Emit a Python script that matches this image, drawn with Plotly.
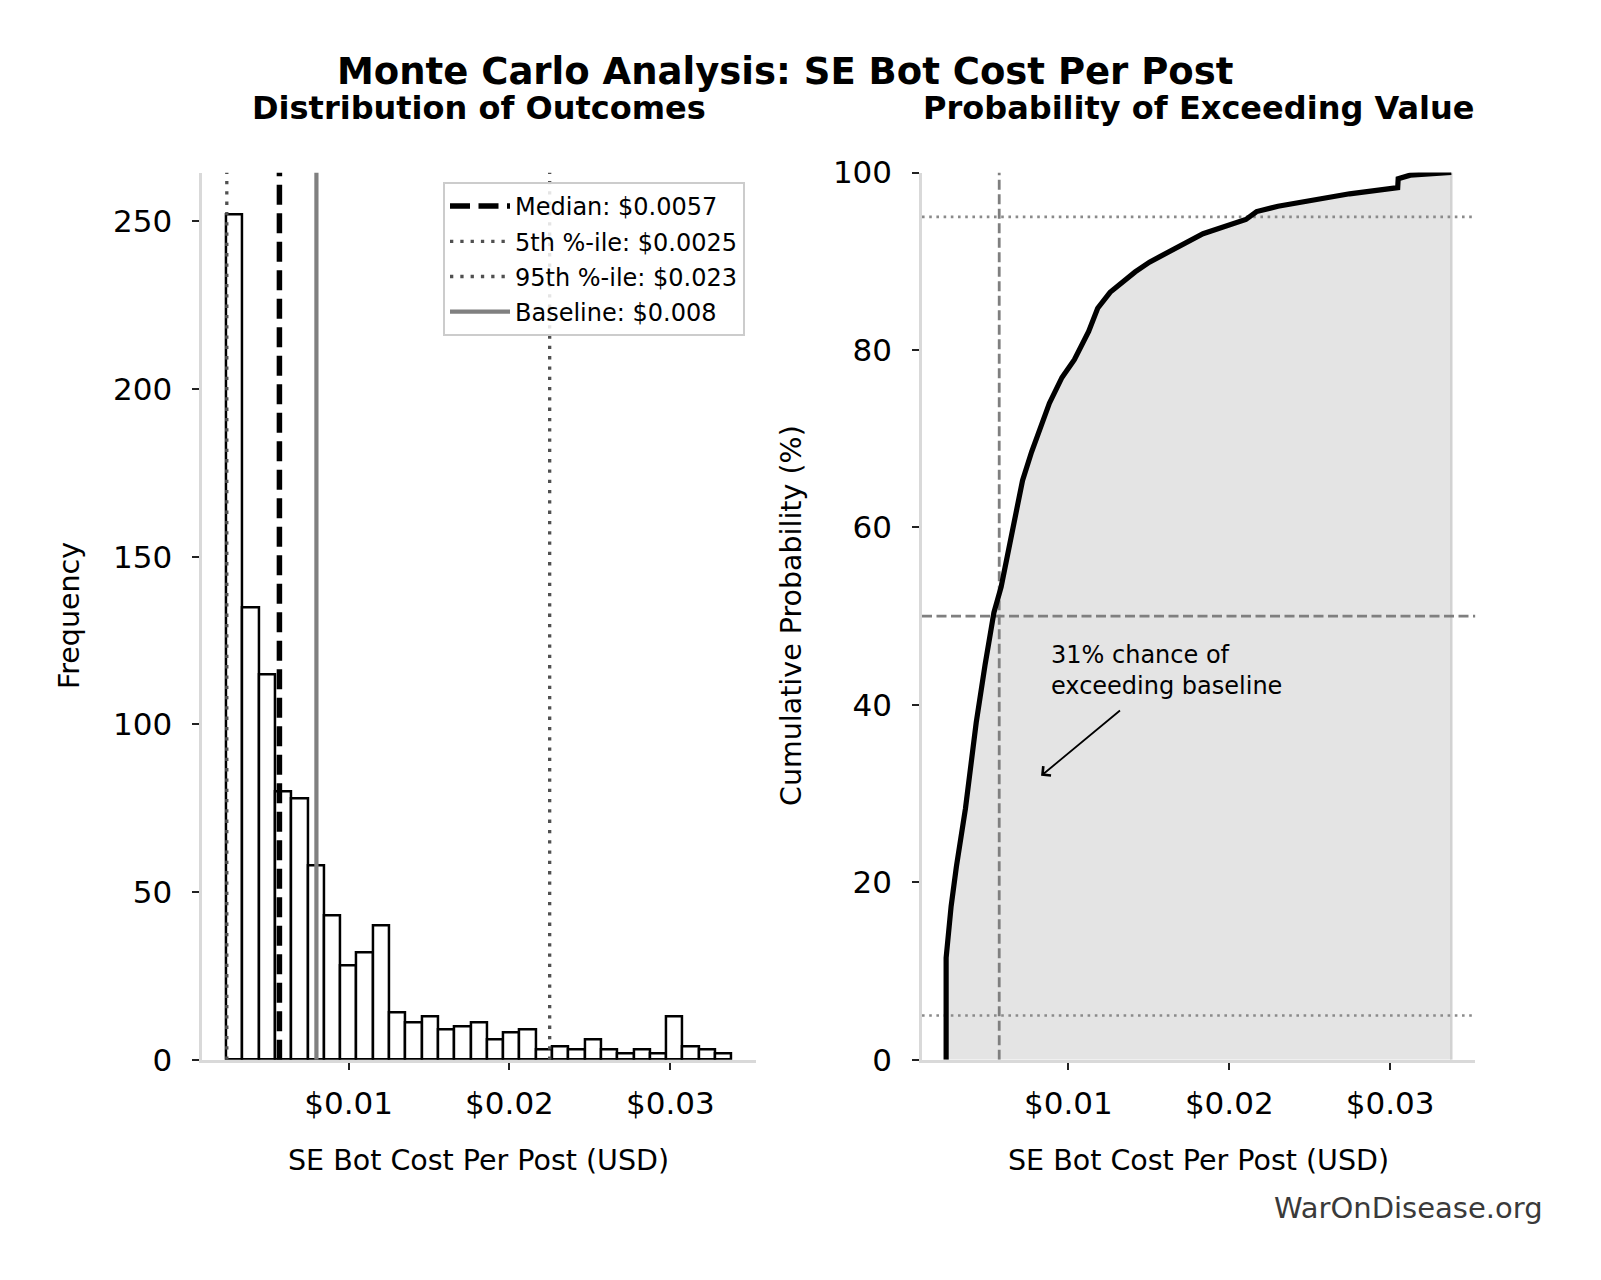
import plotly.graph_objects as go

# ---------------- data ----------------
hist_counts = [252, 135, 115, 80, 78, 58, 43, 28, 32, 40, 14, 11, 13, 9, 10, 11,
               6, 8, 9, 3, 4, 3, 6, 3, 2, 3, 2, 13, 4, 3, 2]
data_min = 0.0024
data_max = 0.0338

cdf_x = [0.0024, 0.0024, 0.00271, 0.00304, 0.0036, 0.00393, 0.00427, 0.00482,
         0.00537, 0.00582, 0.00615, 0.0066, 0.00715, 0.00771, 0.00827, 0.00882,
         0.0096, 0.01037, 0.01126, 0.01182, 0.01259, 0.01415, 0.01504, 0.01637,
         0.01837, 0.02103, 0.0217, 0.02303, 0.02526, 0.02748, 0.03047, 0.0305,
         0.03125, 0.0338]
cdf_y = [0, 11.5, 17.3, 21.8, 28.3, 33.5, 38.0, 44.5, 50.4, 53.3, 56.2, 60.7,
         65.3, 68.5, 71.4, 74.0, 76.9, 78.9, 82.1, 84.7, 86.5, 88.8, 89.9, 91.2,
         93.1, 94.7, 95.6, 96.2, 96.9, 97.6, 98.3, 99.3, 99.7, 100]

median_val = 0.0057
p5_val = 0.00243
p95_val = 0.0225
baseline_val = 0.008
ref_pcts = [5, 50, 95]

legend_labels = ["Median: $0.0057", "5th %-ile: $0.0025",
                 "95th %-ile: $0.023", "Baseline: $0.008"]
x_tick_vals = [0.01, 0.02, 0.03]
x_tick_text = ["$0.01", "$0.02", "$0.03"]
left_y_ticks = [0, 50, 100, 150, 200, 250]
right_y_ticks = [0, 20, 40, 60, 80, 100]

main_title = "Monte Carlo Analysis: SE Bot Cost Per Post"
sub_left = "Distribution of Outcomes"
sub_right = "Probability of Exceeding Value"
x_label = "SE Bot Cost Per Post (USD)"
y_label_left = "Frequency"
y_label_right = "Cumulative Probability (%)"
annot_text = "31% chance of<br>exceeding baseline"
watermark = "WarOnDisease.org"

# ---------------- layout constants ----------------
W, H = 1601, 1280
X_RANGE = [0.0009, 0.0353]
Y_LEFT_TOP = 264.6
FONT = "DejaVu Sans"

n_bins = len(hist_counts)
bw = (data_max - data_min) / n_bins
centers = [data_min + bw * (i + 0.5) for i in range(n_bins)]

fig = go.Figure()

# histogram bars
fig.add_trace(go.Bar(x=centers, y=hist_counts, width=[bw] * n_bins,
                     marker=dict(color="white", line=dict(color="black", width=2.5)),
                     showlegend=False, xaxis="x", yaxis="y", hoverinfo="skip"))

# reference vertical lines (left panel) - also legend entries
vlines = [
    (median_val, legend_labels[0], dict(color="black", width=5.5, dash="20px,8.5px")),
    (p5_val, legend_labels[1], dict(color="#505050", width=3.3, dash="3.3px,7px")),
    (p95_val, legend_labels[2], dict(color="#505050", width=3.3, dash="3.3px,7px")),
    (baseline_val, legend_labels[3], dict(color="#808080", width=4.2)),
]
for i, (xv, name, ln) in enumerate(vlines):
    fig.add_trace(go.Scatter(x=[xv, xv], y=[0, Y_LEFT_TOP], mode="lines", line=ln,
                             name=name, legendgroup="g%d" % i,
                             xaxis="x", yaxis="y", hoverinfo="skip"))

# right panel: fill under cumulative curve
fig.add_trace(go.Scatter(x=cdf_x, y=cdf_y, mode="lines", fill="tozeroy",
                         fillcolor="#e4e4e4", line=dict(width=0),
                         showlegend=False, xaxis="x2", yaxis="y2", hoverinfo="skip"))
fig.add_trace(go.Scatter(x=[cdf_x[-1], cdf_x[-1]], y=[0, cdf_y[-1]], mode="lines",
                         line=dict(color="#d2d2d2", width=2.5),
                         showlegend=False, xaxis="x2", yaxis="y2", hoverinfo="skip"))

# reference lines right panel
for p in ref_pcts:
    if p == 50:
        ln = dict(color="#7f7f7f", width=2.8, dash="10px,4.5px")
    else:
        ln = dict(color="#8a8a8a", width=2.6, dash="2.6px,4.6px")
    fig.add_trace(go.Scatter(x=X_RANGE, y=[p, p], mode="lines", line=ln,
                             showlegend=False, xaxis="x2", yaxis="y2", hoverinfo="skip"))
fig.add_trace(go.Scatter(x=[median_val, median_val], y=[0, 100], mode="lines",
                         line=dict(color="#7f7f7f", width=2.8, dash="10px,4.5px"),
                         showlegend=False, xaxis="x2", yaxis="y2", hoverinfo="skip"))

# cumulative curve
fig.add_trace(go.Scatter(x=cdf_x, y=cdf_y, mode="lines",
                         line=dict(color="black", width=5.2),
                         showlegend=False, xaxis="x2", yaxis="y2", hoverinfo="skip"))

axis_common = dict(
    showgrid=False, zeroline=False, showline=True, linecolor="#d9d9d9", linewidth=2.5,
    ticks="outside", ticklen=7, tickwidth=2, tickcolor="#222222", automargin=False,
    tickfont=dict(family=FONT, size=31, color="black"),
)

y_dom = [(H - 1059.8) / H, (H - 172.5) / H]
fig.update_layout(
    width=W, height=H,
    margin=dict(l=0, r=0, t=0, b=0, pad=0, autoexpand=False),
    paper_bgcolor="white", plot_bgcolor="white",
    font=dict(family=FONT, color="black"),
    xaxis=dict(domain=[202.2 / W, 755.6 / W], range=X_RANGE, tickvals=x_tick_vals,
               ticktext=x_tick_text, anchor="y", ticklabelstandoff=7, **axis_common),
    yaxis=dict(domain=y_dom, range=[0, Y_LEFT_TOP], tickvals=left_y_ticks,
               anchor="x", ticklabelstandoff=14, **axis_common),
    xaxis2=dict(domain=[922 / W, 1475.4 / W], range=X_RANGE, tickvals=x_tick_vals,
                ticktext=x_tick_text, anchor="y2", ticklabelstandoff=7, **axis_common),
    yaxis2=dict(domain=y_dom, range=[0, 100], tickvals=right_y_ticks,
                anchor="x2", ticklabelstandoff=14, **axis_common),
    legend=dict(x=745 / W, xanchor="right", y=1 - 182 / H, yanchor="top",
                bgcolor="rgba(255,255,255,0.85)", bordercolor="#cccccc", borderwidth=2,
                font=dict(family=FONT, size=24, color="black"), tracegroupgap=1,
                itemwidth=60),
    bargap=0,
    showlegend=True,
)

ann = []
ann.append(dict(text="<b>" + main_title + "</b>", x=785 / W, y=1 - 71.5 / H,
                xref="paper", yref="paper", showarrow=False,
                font=dict(family=FONT, size=37, color="black"),
                xanchor="center", yanchor="middle"))
ann.append(dict(text="<b>" + sub_left + "</b>", x=478.9 / W, y=1 - 107.7 / H,
                xref="paper", yref="paper", showarrow=False,
                font=dict(family=FONT, size=32, color="black"),
                xanchor="center", yanchor="middle"))
ann.append(dict(text="<b>" + sub_right + "</b>", x=1198.7 / W, y=1 - 107.7 / H,
                xref="paper", yref="paper", showarrow=False,
                font=dict(family=FONT, size=32, color="black"),
                xanchor="center", yanchor="middle"))
for xc in (478.9, 1198.7):
    ann.append(dict(text=x_label, x=xc / W, y=1 - 1160 / H, xref="paper", yref="paper",
                    showarrow=False, font=dict(family=FONT, size=28.5, color="black"),
                    xanchor="center", yanchor="middle"))
ann.append(dict(text=y_label_left, x=69.4 / W, y=1 - 615.7 / H, xref="paper",
                yref="paper", showarrow=False, textangle=-90,
                font=dict(family=FONT, size=28.5, color="black"),
                xanchor="center", yanchor="middle"))
ann.append(dict(text=y_label_right, x=791.3 / W, y=1 - 615.7 / H, xref="paper",
                yref="paper", showarrow=False, textangle=-90,
                font=dict(family=FONT, size=28.5, color="black"),
                xanchor="center", yanchor="middle"))
ann.append(dict(text=annot_text, x=0.0088, y=47.4, xref="x2", yref="y2",
                showarrow=False, align="left", xanchor="left", yanchor="top",
                font=dict(family=FONT, size=24, color="black")))
ann.append(dict(text="", x=0.0083, y=32, ax=0.0133, ay=39.5, xref="x2", yref="y2",
                axref="x2", ayref="y2", showarrow=True, arrowhead=4, arrowsize=1.3,
                arrowwidth=1.8, arrowcolor="black", standoff=0, startstandoff=0))
ann.append(dict(text=watermark, x=1545 / W, y=1 - 1208 / H, xref="paper", yref="paper",
                showarrow=False, xanchor="right", yanchor="middle",
                font=dict(family=FONT, size=29, color="#3a3a3a")))
fig.update_layout(annotations=ann)

fig.write_html("out.html")
